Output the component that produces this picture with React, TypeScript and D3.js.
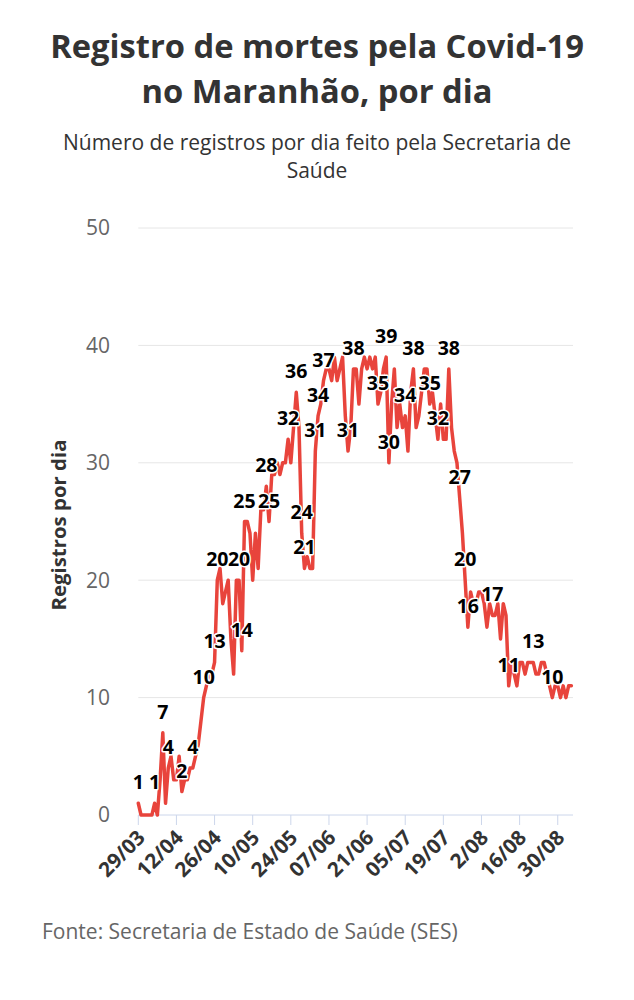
import * as d3 from 'd3';

const WIDTH = 634;
const HEIGHT = 1000;
const DAY = 864e5;

// first day of the series: 29/03/2020
const START = Date.UTC(2020, 2, 29);

// deaths registered per day, 29/03 .. 04/09
const deaths = [
  1, 0, 0, 0, 0, 0, 1, 0, 3, 7,
  1, 4, 5, 3, 3, 5, 2, 3, 3, 4,
  4, 5, 6, 8, 10, 11, 12, 12, 13, 20,
  21, 18, 19, 20, 15, 12, 20, 20, 14, 25,
  25, 24, 20, 24, 21, 26, 26, 28, 25, 29,
  29, 30, 29, 30, 30, 32, 30, 33, 36, 33,
  24, 21, 22, 21, 21, 31, 34, 35, 37, 38,
  38, 37, 39, 37, 38, 39, 34, 31, 33, 38,
  38, 35, 38, 39, 38, 39, 38, 39, 35, 36,
  38, 39, 30, 35, 38, 33, 35, 33, 34, 31,
  36, 38, 33, 34, 36, 38, 38, 35, 36, 34,
  32, 35, 32, 32, 38, 33, 31, 30, 27, 24,
  20, 16, 19, 18, 18, 19, 19, 18, 16, 18,
  17, 17, 18, 15, 18, 17, 11, 13, 12, 11,
  13, 13, 12, 13, 13, 13, 12, 12, 13, 13,
  12, 11, 10, 11, 11, 10, 11, 10, 11, 11,
];

// days (index in deaths) that carry a value label
const labelDays = [
  0, 6, 9, 11, 16, 20, 24, 28, 29, 37, 38, 39, 47, 48, 55, 58, 60, 61, 65, 66,
  68, 77, 79, 88, 91, 92, 98, 101, 107, 110, 114, 118, 120, 121, 130, 136, 145, 152,
];

const tickLabels = [
  '29/03', '12/04', '26/04', '10/05', '24/05', '07/06',
  '21/06', '05/07', '19/07', '2/08', '16/08', '30/08',
];
const yTicks = [0, 10, 20, 30, 40, 50];

const title = ['Registro de mortes pela Covid-19', 'no Maranhão, por dia'];
const subtitle = ['Número de registros por dia feito pela Secretaria de', 'Saúde'];
const yTitle = 'Registros por dia';
const source = 'Fonte: Secretaria de Estado de Saúde (SES)';

const FONT = '"Open Sans", sans-serif';
const LINE = '#e8443c';

export default function App() {
  const points = deaths.map((v, i) => ({ date: new Date(START + i * DAY), v }));

  const x = d3.scaleUtc()
    .domain([new Date(START), new Date(START + 159.6 * DAY)])
    .range([138.3, 573]);
  const y = d3.scaleLinear().domain([0, 50]).range([815, 228]);

  const line = d3.line<{ date: Date; v: number }>()
    .x((d) => x(d.date))
    .y((d) => y(d.v));

  const ticks = tickLabels.map((label, i) => ({
    label,
    x: x(new Date(START + i * 14 * DAY)),
  }));

  const [x0, x1] = x.range();

  return (
    <svg
      width={WIDTH}
      height={HEIGHT}
      style={{ position: 'absolute', left: 0, top: 0, background: '#fff' }}
      fontFamily={FONT}
    >
      {title.map((t, i) => (
        <text
          key={t}
          x={WIDTH / 2}
          y={58 + i * 45}
          textAnchor="middle"
          fontSize={32.7}
          fontWeight={700}
          fill="#333"
        >
          {t}
        </text>
      ))}
      {subtitle.map((t, i) => (
        <text
          key={t}
          x={WIDTH / 2}
          y={150 + i * 28}
          textAnchor="middle"
          fontSize={21}
          fill="#333"
        >
          {t}
        </text>
      ))}

      {yTicks.map((t) => (
        <g key={t}>
          {t > 0 && (
            <line x1={x0} x2={x1} y1={y(t)} y2={y(t)} stroke="#e6e6e6" strokeWidth={1} />
          )}
          <text
            x={110}
            y={y(t)}
            dy="0.35em"
            textAnchor="end"
            fontSize={21}
            fill="#666"
          >
            {t}
          </text>
        </g>
      ))}

      <line x1={x0} x2={x1} y1={y(0)} y2={y(0)} stroke="#ccd6eb" strokeWidth={1} />
      {ticks.map((t) => (
        <g key={t.label}>
          <line x1={t.x} x2={t.x} y1={y(0)} y2={y(0) + 10} stroke="#ccd6eb" strokeWidth={1} />
          <text
            transform={`translate(${t.x + 8}, 839) rotate(-45)`}
            textAnchor="end"
            fontSize={20.5}
            fontWeight={700}
            fill="#333"
          >
            {t.label}
          </text>
        </g>
      ))}

      <text
        transform="translate(66, 525) rotate(-90)"
        textAnchor="middle"
        fontSize={20.4}
        fontWeight={700}
        fill="#333"
      >
        {yTitle}
      </text>

      <path
        d={line(points) ?? ''}
        fill="none"
        stroke={LINE}
        strokeWidth={3.5}
        strokeLinejoin="round"
        strokeLinecap="round"
      />

      {labelDays.map((d) => (
        <text
          key={d}
          x={x(points[d].date)}
          y={y(points[d].v) - 14}
          textAnchor="middle"
          fontSize={19.5}
          fontWeight={700}
          fill="#000"
          stroke="#fff"
          strokeWidth={3}
          strokeLinejoin="round"
          style={{ paintOrder: 'stroke' }}
        >
          {points[d].v}
        </text>
      ))}

      <text x={42} y={939} fontSize={21} fill="#666">
        {source}
      </text>
    </svg>
  );
}
